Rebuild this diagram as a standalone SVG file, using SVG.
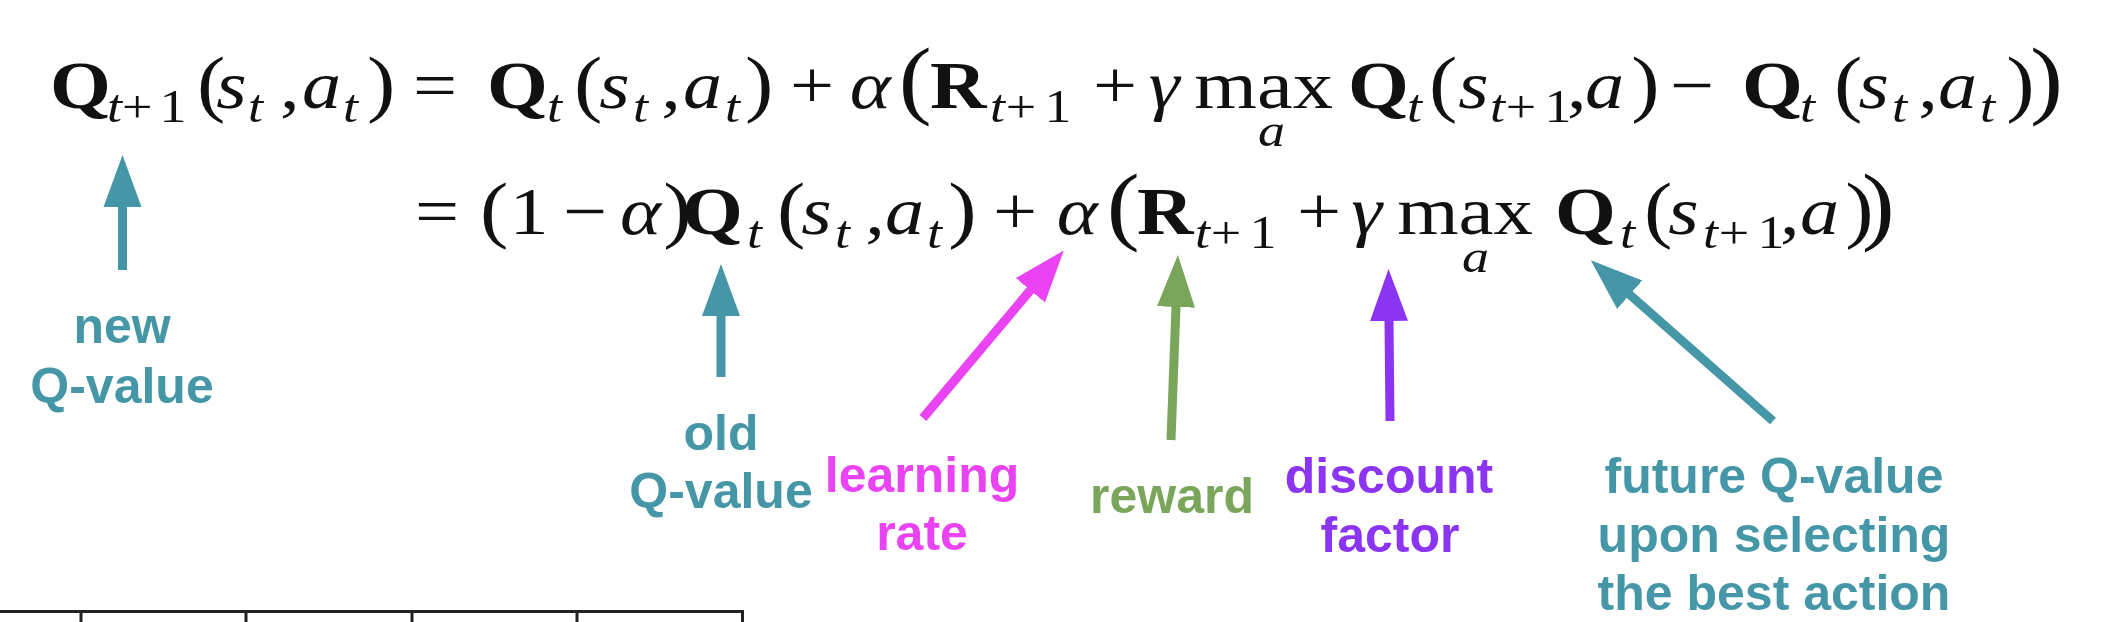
<svg xmlns="http://www.w3.org/2000/svg" width="2106" height="622" viewBox="0 0 2106 622">
<style>
.m{font-family:"Liberation Serif","Times New Roman",serif;font-size:68px;fill:#111}
.b{font-weight:bold}
.i{font-style:italic}
.s{font-size:47px}
.p{font-size:74px}
.P{font-size:86px}
.lbl{font-family:"Liberation Sans",Arial,sans-serif;font-weight:bold;font-size:50px;text-anchor:middle}
.teal{fill:#4596a7}.mag{fill:#ea43f3}.grn{fill:#7aa65b}.pur{fill:#8b35f2}
.sh{stroke-width:9;fill:none}
.tbl{stroke:#222;stroke-width:3;fill:none}
</style>
<defs>
<marker id="hTeal" markerUnits="userSpaceOnUse" viewBox="0 -20 52 40" refX="1" refY="0" markerWidth="52" markerHeight="40" orient="auto"><path d="M0,-19L52,0L0,19z" fill="#4596a7"/></marker>
<marker id="hMag" markerUnits="userSpaceOnUse" viewBox="0 -20 52 40" refX="1" refY="0" markerWidth="52" markerHeight="40" orient="auto"><path d="M0,-19L52,0L0,19z" fill="#ea43f3"/></marker>
<marker id="hGrn" markerUnits="userSpaceOnUse" viewBox="0 -20 52 40" refX="1" refY="0" markerWidth="52" markerHeight="40" orient="auto"><path d="M0,-19L52,0L0,19z" fill="#7aa65b"/></marker>
<marker id="hPur" markerUnits="userSpaceOnUse" viewBox="0 -20 52 40" refX="1" refY="0" markerWidth="52" markerHeight="40" orient="auto"><path d="M0,-19L52,0L0,19z" fill="#8b35f2"/></marker>
</defs>
<rect width="2106" height="622" fill="#fff"/>

<g id="equation-line1" transform="scale(1.15,1)">
<text class="m"><tspan class="b" x="43.5" y="108">Q</tspan><tspan class="s i" x="93" y="122">t</tspan><tspan class="s" x="106" y="122">+</tspan><tspan class="s" x="138.6" y="122">1</tspan><tspan class="p" x="171.3" y="108">(</tspan><tspan class="i" x="188" y="108">s</tspan><tspan class="s i" x="215.7" y="122">t</tspan><tspan x="243.5" y="108">,</tspan><tspan class="i" x="262.6" y="108">a</tspan><tspan class="s i" x="298.3" y="122">t</tspan><tspan class="p" x="319.1" y="108">)</tspan><tspan x="359.1" y="108">=</tspan></text>
<text class="m"><tspan class="b" x="423.5" y="108">Q</tspan><tspan class="s i" x="475.7" y="122">t</tspan><tspan class="p" x="499.1" y="108">(</tspan><tspan class="i" x="521" y="108">s</tspan><tspan class="s i" x="550.4" y="122">t</tspan><tspan x="575" y="108">,</tspan><tspan class="i" x="593.9" y="108">a</tspan><tspan class="s i" x="630.4" y="122">t</tspan><tspan class="p" x="647.8" y="108">)</tspan><tspan x="687" y="108">+</tspan><tspan class="i" x="739" y="108">α</tspan></text>
<text class="m"><tspan class="P" x="781.5" y="108">(</tspan><tspan class="b" x="808.7" y="108">R</tspan><tspan class="s i" x="860.9" y="122">t</tspan><tspan class="s" x="874.5" y="122">+</tspan><tspan class="s" x="908.2" y="122">1</tspan><tspan x="950.4" y="108">+</tspan><tspan class="i" x="999" y="108">γ</tspan></text>
<text class="m" x="1038.5" y="108" textLength="120.6" lengthAdjust="spacingAndGlyphs">max</text>
<text class="m s i" x="1093.9" y="146">a</text>
<text class="m"><tspan class="b" x="1172.2" y="108">Q</tspan><tspan class="s i" x="1223.5" y="122">t</tspan><tspan class="p" x="1242.6" y="108">(</tspan><tspan class="i" x="1268" y="108">s</tspan><tspan class="s i" x="1295.7" y="122">t</tspan><tspan class="s" x="1309.3" y="122">+</tspan><tspan class="s" x="1343" y="122">1</tspan><tspan x="1362.6" y="108">,</tspan><tspan class="i" x="1378.3" y="108">a</tspan><tspan class="p" x="1418.4" y="108">)</tspan><tspan x="1452.2" y="108">−</tspan></text>
<text class="m"><tspan class="b" x="1514.8" y="108">Q</tspan><tspan class="s i" x="1565.2" y="122">t</tspan><tspan class="p" x="1594.8" y="108">(</tspan><tspan class="i" x="1616" y="108">s</tspan><tspan class="s i" x="1645.2" y="122">t</tspan><tspan x="1668" y="108">,</tspan><tspan class="i" x="1685.2" y="108">a</tspan><tspan class="s i" x="1721.7" y="122">t</tspan><tspan class="p" x="1744.5" y="108">)</tspan><tspan class="P" x="1765.2" y="108">)</tspan></text>
</g>

<g id="equation-line2" transform="scale(1.15,1)">
<text class="m"><tspan x="360.9" y="234">=</tspan><tspan class="p" x="417.4" y="234">(</tspan><tspan x="443" y="234">1</tspan><tspan x="489.6" y="234">−</tspan><tspan class="i" x="539.1" y="234">α</tspan><tspan class="p" x="576.7" y="234">)</tspan></text>
<text class="m"><tspan class="b" x="593" y="234">Q</tspan><tspan class="s i" x="649.6" y="248">t</tspan><tspan class="p" x="675.7" y="234">(</tspan><tspan class="i" x="696.7" y="234">s</tspan><tspan class="s i" x="726.1" y="248">t</tspan><tspan x="752.4" y="234">,</tspan><tspan class="i" x="769.6" y="234">a</tspan><tspan class="s i" x="806.1" y="248">t</tspan><tspan class="p" x="824.5" y="234">)</tspan><tspan x="863.5" y="234">+</tspan><tspan class="i" x="919" y="234">α</tspan></text>
<text class="m"><tspan class="P" x="962.5" y="234">(</tspan><tspan class="b" x="988.7" y="234">R</tspan><tspan class="s i" x="1039.1" y="248">t</tspan><tspan class="s" x="1052.8" y="248">+</tspan><tspan class="s" x="1086.5" y="248">1</tspan><tspan x="1127.8" y="234">+</tspan><tspan class="i" x="1175" y="234">γ</tspan></text>
<text class="m" x="1215" y="234" textLength="118" lengthAdjust="spacingAndGlyphs">max</text>
<text class="m s i" x="1271.3" y="272">a</text>
<text class="m"><tspan class="b" x="1352.2" y="234">Q</tspan><tspan class="s i" x="1408.7" y="248">t</tspan><tspan class="p" x="1429.6" y="234">(</tspan><tspan class="i" x="1450.6" y="234">s</tspan><tspan class="s i" x="1480.9" y="248">t</tspan><tspan class="s" x="1494.5" y="248">+</tspan><tspan class="s" x="1528.2" y="248">1</tspan><tspan x="1547.8" y="234">,</tspan><tspan class="i" x="1565.2" y="234">a</tspan><tspan class="p" x="1604.5" y="234">)</tspan><tspan class="P" x="1619" y="234">)</tspan></text>
</g>

<g id="connectors">
<line class="sh" stroke="#4596a7" x1="122.5" y1="270" x2="122.5" y2="206" marker-end="url(#hTeal)"/>
<line class="sh" stroke="#4596a7" x1="721" y1="377" x2="721" y2="315" marker-end="url(#hTeal)"/>
<line class="sh" stroke="#ea43f3" x1="923" y1="418" x2="1031" y2="289.5" marker-end="url(#hMag)"/>
<line class="sh" stroke="#7aa65b" x1="1171" y1="440" x2="1176" y2="306" marker-end="url(#hGrn)"/>
<line class="sh" stroke="#8b35f2" x1="1390" y1="421" x2="1389" y2="320" marker-end="url(#hPur)"/>
<line class="sh" stroke="#4596a7" x1="1773" y1="421" x2="1629" y2="294" marker-end="url(#hTeal)"/>
</g>

<g id="label-new">
<text class="lbl teal" x="122" y="343">new</text>
<text class="lbl teal" x="122" y="403">Q-value</text>
</g>
<g id="label-old">
<text class="lbl teal" x="721" y="450">old</text>
<text class="lbl teal" x="721" y="508">Q-value</text>
</g>
<g id="label-learning-rate">
<text class="lbl mag" x="922" y="492">learning</text>
<text class="lbl mag" x="922" y="550">rate</text>
</g>
<g id="label-reward">
<text class="lbl grn" x="1172" y="513">reward</text>
</g>
<g id="label-discount">
<text class="lbl pur" x="1389" y="493">discount</text>
<text class="lbl pur" x="1390" y="552">factor</text>
</g>
<g id="label-future">
<text class="lbl teal" x="1774" y="493">future Q-value</text>
<text class="lbl teal" x="1774" y="552">upon selecting</text>
<text class="lbl teal" x="1774" y="610">the best action</text>
</g>

<g id="table-fragment">
<path class="tbl" d="M0,611.5H744M81,611V622M246,611V622M412,611V622M577,611V622M742.5,610V622"/>
</g>
</svg>
